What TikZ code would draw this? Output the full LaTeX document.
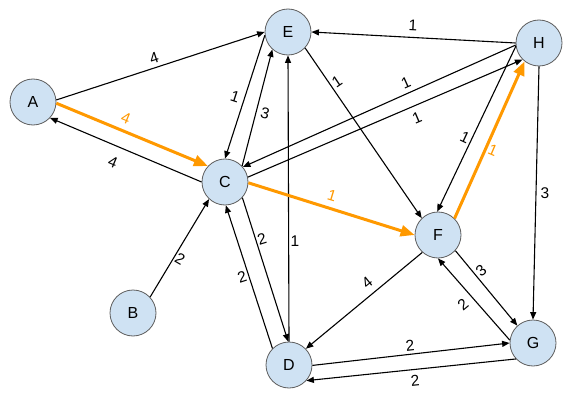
\documentclass[tikz,border=0pt]{standalone}
\usepackage{fontspec}
\setmainfont{Liberation Sans}
\usetikzlibrary{arrows.meta}
\definecolor{nodeblue}{HTML}{CFE2F3}
\definecolor{nodeline}{HTML}{5F5F5F}
\definecolor{hl}{HTML}{FF9900}
\begin{document}
\begin{tikzpicture}[x=1pt,y=-1pt,
  vtx/.style={circle,draw=nodeline,line width=0.8pt,fill=nodeblue,minimum size=46pt,inner sep=0pt,font=\fontsize{16}{16}\selectfont},
  edge/.style={draw=black,line width=1.1pt,-{Triangle[length=7.5pt,width=6pt]}},
  hot/.style={draw=hl,line width=3pt,-{Triangle[length=14pt,width=11pt]}},
  lbl/.style={inner sep=0pt,font=\fontsize{15.5}{15.5}\selectfont},
  hlbl/.style={lbl,text=hl}]
\useasboundingbox[fill=white] (0,0) rectangle (576,404);
% vertices
\node[vtx] (A) at (33,102) {A};
\node[vtx] (B) at (133,313) {B};
\node[vtx] (C) at (225,182) {C};
\node[vtx] (D) at (289,365) {D};
\node[vtx] (E) at (288,32) {E};
\node[vtx] (F) at (438,235) {F};
\node[vtx] (G) at (533,343) {G};
\node[vtx] (H) at (539,43) {H};
% black edges
\draw[edge] (A.5) -- (E.180) node[lbl,rotate=18] (lAE) at (154,58) {4};
\draw[edge] (C.180) -- (A.-43) node[lbl,rotate=-22.6] (lCA) at (113,162) {4};
\draw[edge] (E.-172) -- (C.90) node[lbl,rotate=-18] (lEC) at (235,97) {1};
\draw[edge] (C.43) -- (E.-132) node[lbl,rotate=-14] (lCE) at (265,113) {3};
\draw[edge] (H.185) -- (C.40) node[lbl,rotate=24] (lHC) at (406,83) {1};
\draw[edge] (C.12) -- (H.-135) node[lbl,rotate=23] (lCH) at (417,118) {1};
\draw[edge] (H.180) -- (E.0) node[lbl,rotate=-3] (lHE) at (413,25) {1};
\draw[edge] (E.-43) -- (F.134) node[lbl,rotate=34] (lEF) at (337,82) {1};
\draw[edge] (H.188) -- (F.92) node[lbl,rotate=-25] (lHF) at (465,137) {1};
\draw[edge] (H.-90) -- (G.90) node[lbl] (lHG) at (545,193) {3};
\draw[edge] (B.43) -- (C.-133) node[lbl,rotate=-30] (lBC) at (180,259) {2};
\draw[edge] (C.-42) -- (D.92) node[lbl,rotate=17] (lCD) at (262,239) {2};
\draw[edge] (D.135) -- (C.-88) node[lbl,rotate=18] (lDC) at (242,277) {2};
\draw[edge] (D.90) -- (E.-90) node[lbl] (lDE) at (295,241) {1};
\draw[edge] (F.-132) -- (D.44) node[lbl,rotate=39] (lFD) at (367,283) {4};
\draw[edge] (F.-42) -- (G.132) node[lbl,rotate=39] (lFG) at (481,271) {3};
\draw[edge] (G.173) -- (F.-90) node[lbl,rotate=40] (lGF) at (463,305) {2};
\draw[edge] (D.-1) -- (G.180) node[lbl,rotate=6.6] (lDG) at (410,346) {2};
\draw[edge] (G.-137) -- (D.-42) node[lbl,rotate=6] (lGD) at (415,381) {2};
% highlighted path
\draw[hot] (A.-3) -- (C.137) node[hlbl,rotate=-22.5] (lAC) at (126,118) {4};
\draw[hot] (C.-2) -- (F.180) node[hlbl,rotate=-17] (lCF) at (332,196) {1};
\draw[hot] (F.45) -- (H.-128) node[hlbl,rotate=-23] (lFH) at (493,150) {1};
\end{tikzpicture}
\end{document}
